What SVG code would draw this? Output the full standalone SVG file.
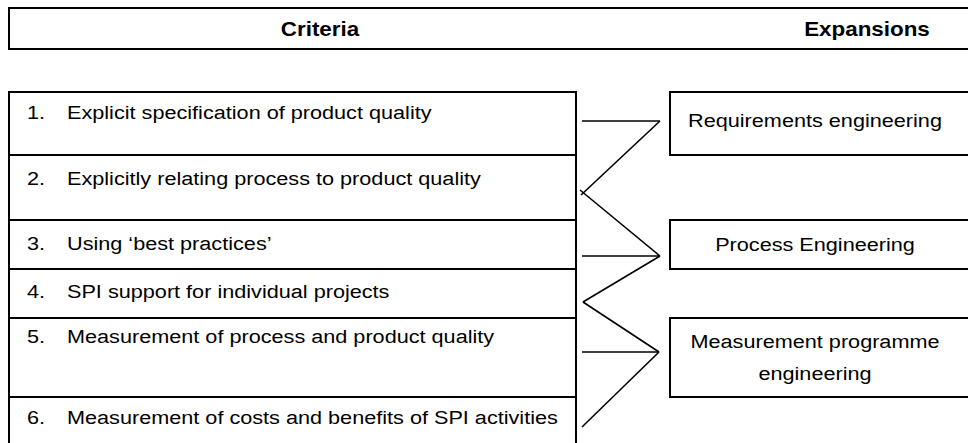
<svg xmlns="http://www.w3.org/2000/svg" width="968" height="443" viewBox="0 0 968 443">
<style>
.box{fill:#fff;stroke:#000;stroke-width:2}
.t{font-family:"Liberation Sans",Arial,sans-serif;font-size:19px;fill:#000}
.h{font-family:"Liberation Sans",Arial,sans-serif;font-size:20px;font-weight:bold;fill:#000}
.c{fill:none;stroke:#000;stroke-width:1.6}
</style>
<rect width="968" height="443" fill="#fff"/>
<g id="header">
<rect class="box" x="9" y="8" width="970" height="41"/>
<text class="h" text-anchor="middle" transform="translate(320 36) scale(1.12 1)">Criteria</text>
<text class="h" text-anchor="middle" transform="translate(867 36) scale(1.12 1)">Expansions</text>
</g>
<g id="c1"><rect class="box" x="9" y="92" width="567" height="63"/>
<text class="t" transform="translate(27 119) scale(1.14 1)">1.</text><text class="t" transform="translate(67 119) scale(1.14 1)">Explicit specification of product quality</text></g>
<g id="c2"><rect class="box" x="9" y="155" width="567" height="65"/>
<text class="t" transform="translate(27 185) scale(1.14 1)">2.</text><text class="t" transform="translate(67 185) scale(1.14 1)">Explicitly relating process to product quality</text></g>
<g id="c3"><rect class="box" x="9" y="220" width="567" height="49"/>
<text class="t" transform="translate(27 250) scale(1.14 1)">3.</text><text class="t" transform="translate(67 250) scale(1.14 1)">Using ‘best practices’</text></g>
<g id="c4"><rect class="box" x="9" y="269" width="567" height="49"/>
<text class="t" transform="translate(27 298) scale(1.14 1)">4.</text><text class="t" transform="translate(67 298) scale(1.14 1)">SPI support for individual projects</text></g>
<g id="c5"><rect class="box" x="9" y="318" width="567" height="79"/>
<text class="t" transform="translate(27 343) scale(1.14 1)">5.</text><text class="t" transform="translate(67 343) scale(1.14 1)">Measurement of process and product quality</text></g>
<g id="c6"><rect class="box" x="9" y="397" width="567" height="50"/>
<text class="t" transform="translate(27 424) scale(1.14 1)">6.</text><text class="t" transform="translate(67 424) scale(1.14 1)">Measurement of costs and benefits of SPI activities</text></g>
<g id="e1"><rect class="box" x="670" y="92" width="310" height="63"/>
<text class="t" text-anchor="middle" transform="translate(815 127) scale(1.14 1)">Requirements engineering</text></g>
<g id="e2"><rect class="box" x="670" y="220" width="310" height="49"/>
<text class="t" text-anchor="middle" transform="translate(815 251) scale(1.14 1)">Process Engineering</text></g>
<g id="e3"><rect class="box" x="670" y="318" width="310" height="79"/>
<text class="t" text-anchor="middle" transform="translate(815 348) scale(1.14 1)">Measurement programme</text>
<text class="t" text-anchor="middle" transform="translate(815 380) scale(1.14 1)">engineering</text></g>
<g id="connectors">
<line class="c" x1="582" y1="121" x2="660" y2="121"/>
<line class="c" x1="660" y1="121" x2="581" y2="195"/>
<line class="c" x1="580" y1="190" x2="660" y2="256"/>
<line class="c" x1="582" y1="256" x2="660" y2="256"/>
<line class="c" x1="660" y1="256" x2="583" y2="302"/>
<line class="c" x1="583" y1="302" x2="659" y2="352"/>
<line class="c" x1="582" y1="352" x2="659" y2="352"/>
<line class="c" x1="659" y1="352" x2="582" y2="427"/>
</g>
</svg>
